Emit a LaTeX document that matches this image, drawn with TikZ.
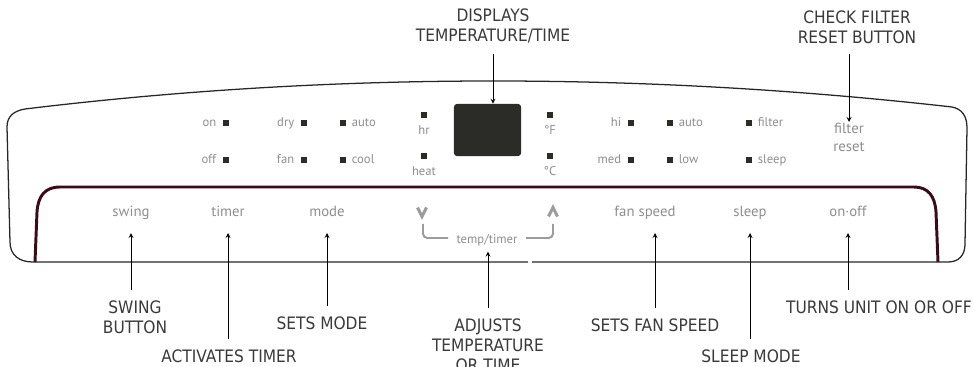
\documentclass[tikz,border=0pt]{standalone}
\usepackage{fontspec}
\usepackage{xcolor}
\setmainfont{DejaVu Sans}
\newfontfamily\panelfont{PT Sans}
\newfontfamily\callfont{DejaVu Sans Condensed}
\definecolor{panelgray}{HTML}{8E8E8E}
\definecolor{keygray}{HTML}{9C9C9C}
\definecolor{calltext}{HTML}{3A3A3A}
\definecolor{rimmaroon}{HTML}{3A0B18}
\definecolor{ledblack}{HTML}{2B2B28}
\tikzset{
  rim/.style={draw=black!85, line width=0.9pt},
  trim/.style={draw=rimmaroon, line width=2.1pt},
  lcd/.style={fill=ledblack, minimum width=1.675cm, minimum height=1.3cm, rounded corners=2pt, inner sep=0pt},
  led/.style={fill=ledblack, minimum size=0.15cm, inner sep=0pt},
  ledtext/.style={font=\panelfont\fontsize{9}{11}\selectfont, text=panelgray, inner sep=0pt},
  btn/.style={font=\panelfont\fontsize{10.5}{12.8}\selectfont, text=panelgray, anchor=base, inner sep=0pt, text depth=0pt, outer ysep=0.4cm},
  chevron/.style={draw=keygray, line width=2.1pt},
  bracket/.style={draw=keygray, line width=1.4pt, rounded corners=3pt},
  calltxt/.style={font=\callfont\fontsize{12.2}{14.2}\selectfont, text=calltext, align=center},
  callout/.style={line width=0.6pt, -stealth, shorten <=0.15cm}
}

\begin{document}
\begin{tikzpicture}[x=0.025cm, y=-0.025cm]
  \useasboundingbox (0,0) rectangle (974,367);
  \draw[rim] (528,262) -- (33,262) .. controls (19,262) and (10,255) .. (10,242)
    -- (7,127) .. controls (7,117) and (13,111) .. (25,109)
    .. controls (330,72) and (643,72) .. (952,107)
    .. controls (962,109) and (967,116) .. (967,128)
    -- (965,244) .. controls (965,255) and (959,262) .. (948,262) -- (532,262);
  \draw[trim] (35,262) -- (37,212) .. controls (38,196) and (45,187) .. (60,187)
    -- (914,187) .. controls (928,187) and (935,196) .. (936,212) -- (938,262);

  \node[lcd] (lcd) at (487.5,130) {};

  \foreach \x/\y/\n/\t in {226/127/on/on, 226/164/off/off, 304/127/dry/dry, 304/164/fan/fan, 631/127/hi/hi, 631/164/med/med}{
    \node[led] (led-\n) at (\x,\y-3.5) {};
    \node[ledtext, anchor=base east] (\n) at (\x-9.5,\y) {\t};
  }
  \foreach \x/\y/\n/\t in {343/127/auto/auto, 343/164/cool/cool, 670/127/fanauto/auto, 670/164/low/low, 749/127/filterled/filter, 749/164/sleepled/sleep}{
    \node[led] (led-\n) at (\x,\y-3.5) {};
    \node[ledtext, anchor=base west] (\n) at (\x+8.5,\y) {\t};
  }
  \foreach \x/\y/\n/\t in {424/135/hr/hr, 424/176/heat/heat, 550/135/degf/{°F}, 550/176/degc/{°C}}{
    \node[led] (led-\n) at (\x,\y-20) {};
    \node[ledtext, anchor=base] (\n) at (\x,\y) {\t};
  }

  \node[btn, font=\panelfont\fontsize{10.5}{12.8}\selectfont, align=center, anchor=north, text depth=, outer ysep=0pt, inner sep=1pt] (filterbtn) at (849,122) {filter\\reset};

  \node[btn] (swingbtn) at (131,217) {swing};
  \node[btn] (timerbtn) at (228,217) {timer};
  \node[btn] (modebtn) at (327,217) {mode};
  \node[btn] (fanbtn) at (645,217) {fan speed};
  \node[btn] (sleepbtn) at (750,217) {sleep};
  \node[btn] (onoffbtn) at (848,217) {on·off};
  \node[ledtext, anchor=base, outer ysep=0.15cm] (tempbtn) at (487,243) {temp/timer};
  \draw[chevron] (417.5,207.5) -- (422,216.5) -- (426.5,207.5);
  \draw[chevron] (548.5,216.5) -- (553,207.5) -- (557.5,216.5);
  \draw[bracket] (423,224) -- (423,238) -- (448,238);
  \draw[bracket] (526,238) -- (553,238) -- (553,224);

  \node[calltxt, anchor=south] (disptxt) at (493,48.5) {DISPLAYS\\TEMPERATURE/TIME};
  \node[calltxt, anchor=south] (filtertxt) at (857,48.5) {CHECK FILTER\\RESET BUTTON};
  \node[calltxt, anchor=north] (swingtxt) at (135,296) {SWING\\BUTTON};
  \node[calltxt, anchor=north] (timertxt) at (229,345) {ACTIVATES TIMER};
  \node[calltxt, anchor=north] (modetxt) at (322,312) {SETS MODE};
  \node[calltxt, anchor=north] (temptxt) at (488,314) {ADJUSTS\\TEMPERATURE\\OR TIME};
  \node[calltxt, anchor=north] (fantxt) at (655,314) {SETS FAN SPEED};
  \node[calltxt, anchor=north] (sleeptxt) at (751,345) {SLEEP MODE};
  \node[calltxt, anchor=north] (onofftxt) at (879,296) {TURNS UNIT ON OR OFF};

  \draw[callout] (disptxt.south) -- (disptxt.south |- lcd.north);
  \draw[callout] (filtertxt.south -| filterbtn.north) -- (filterbtn.north);
  \draw[callout] (swingtxt.north -| swingbtn.south) -- (swingbtn.south);
  \draw[callout] (timertxt.north -| timerbtn.south) -- (timerbtn.south);
  \draw[callout] (modetxt.north -| modebtn.south) -- (modebtn.south);
  \draw[callout] (temptxt.north) -- (temptxt.north |- tempbtn.south);
  \draw[callout] (fantxt.north) -- (fantxt.north |- fanbtn.south);
  \draw[callout] (sleeptxt.north -| sleepbtn.south) -- (sleepbtn.south);
  \draw[callout] (onofftxt.north -| onoffbtn.south) -- (onoffbtn.south);
\end{tikzpicture}
\end{document}
